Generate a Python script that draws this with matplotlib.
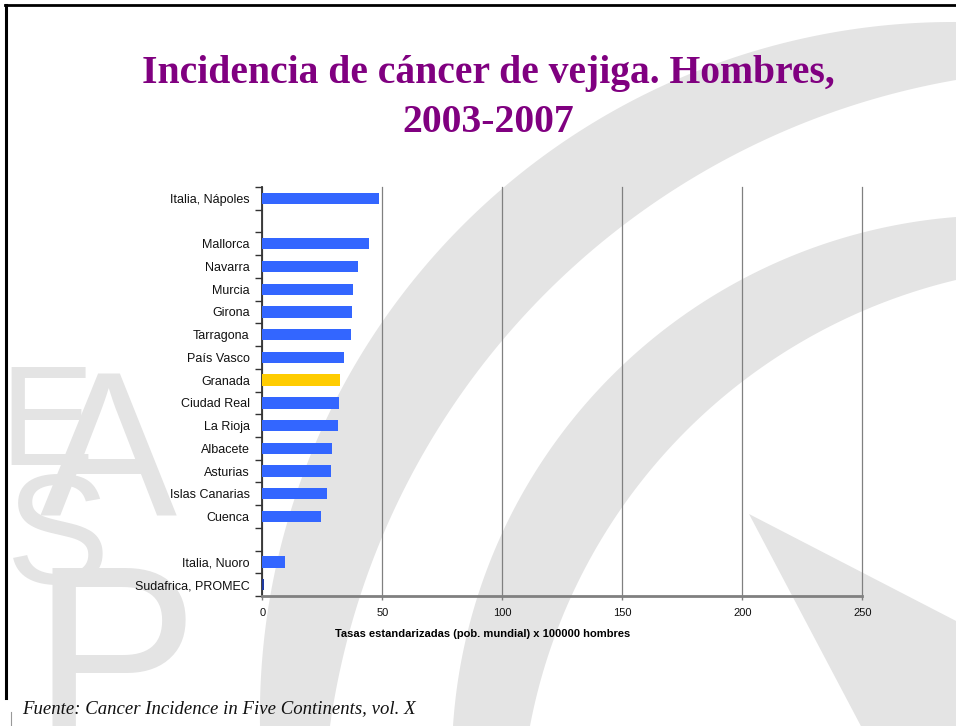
import numpy as np
import matplotlib
matplotlib.use("Agg")
import matplotlib.pyplot as plt
from matplotlib.patches import Polygon

# datos (tasas estandarizadas, pob. mundial, x 100000 hombres)
registros = ['Italia, Nápoles', '', 'Mallorca', 'Navarra', 'Murcia', 'Girona',
             'Tarragona', 'País Vasco', 'Granada', 'Ciudad Real', 'La Rioja',
             'Albacete', 'Asturias', 'Islas Canarias', 'Cuenca', '',
             'Italia, Nuoro', 'Sudafrica, PROMEC']
tasas = [48.6, None, 44.5, 39.9, 37.8, 37.4, 36.9, 34.0, 32.4, 32.0, 31.5,
         29.0, 28.6, 27.0, 24.5, None, 9.5, 0.7]
destacado = 'Granada'
ticks_x = [0, 50, 100, 150, 200, 250]

azul = '#3366FF'
amarillo = '#FFCC00'
gris_marca = '#e4e4e4'

W, H = 956, 726
fig = plt.figure(figsize=(W / 100, H / 100), dpi=100)

# fondo: marca de agua EASP (coordenadas en pixeles)
bg = fig.add_axes([0, 0, 1, 1], zorder=0)
bg.set_xlim(0, W)
bg.set_ylim(H, 0)
bg.axis('off')


def circulo(p1, p2, p3):
    (x1, y1), (x2, y2), (x3, y3) = p1, p2, p3
    A = np.array([[x2 - x1, y2 - y1], [x3 - x2, y3 - y2]]) * 2
    b = np.array([x2**2 - x1**2 + y2**2 - y1**2, x3**2 - x2**2 + y3**2 - y2**2])
    c = np.linalg.solve(A, b)
    return c, np.hypot(x1 - c[0], y1 - c[1])


def borde(pts, extra=0.15, n=200):
    c, r = circulo(*pts)
    ang = np.unwrap([np.arctan2(p[1] - c[1], p[0] - c[0]) for p in pts])
    s = np.sign(ang[-1] - ang[0])
    t = np.linspace(ang[0] - s * extra, ang[-1] + s * extra, n)
    return np.column_stack([c[0] + r * np.cos(t), c[1] + r * np.sin(t)])


bandas = [
    ([(956, 22), (556, 147), (260, 726)], [(956, 80), (556, 283), (330, 726)]),
    ([(956, 217), (589, 400), (453, 726)], [(956, 280), (623, 506), (530, 726)]),
]
for ext, intr in bandas:
    pts = np.vstack([borde(ext), borde(intr)[::-1]])
    bg.add_patch(Polygon(pts, closed=True, color=gris_marca, lw=0))
bg.add_patch(Polygon([(749, 514), (960, 623), (960, 730), (863, 730)],
                     closed=True, color=gris_marca, lw=0))

letra = dict(color=gris_marca, family='Liberation Sans', va='baseline', ha='left')
bg.text(-1, 465, 'E', fontsize=102, **letra)
bg.text(40, 517, 'A', fontsize=148, **letra)
bg.text(6, 583, 'S', fontsize=112, **letra)
bg.text(31, 740, 'P', fontsize=180, **letra)

# marco de la diapositiva
bg.plot([5, W], [5, 5], color='black', lw=2)
bg.plot([6, 6], [5, 698], color='black', lw=2.2)
bg.plot([11, 11], [712, H], color='#999999', lw=0.8)

# grafico
ax = fig.add_axes([262.3 / W, 1 - 596 / H, 600 / W, 409 / H], zorder=1)
ax.patch.set_alpha(0)

pos = np.arange(len(registros))
for y, nombre, v in zip(pos, registros, tasas):
    if v is None:
        continue
    color = amarillo if nombre == destacado else azul
    if v < 2:
        color = '#1f3aa0'
    ax.barh(y, v, height=0.5, color=color, lw=0, zorder=3)

ax.set_xlim(0, 250)
ax.set_ylim(len(registros) - 0.5, -0.5)
ax.set_xticks(ticks_x)
ax.set_xticklabels([str(t) for t in ticks_x], family='Liberation Sans', fontsize=8)
ax.set_yticks(pos)
ax.set_yticklabels(registros, family='Liberation Sans', fontsize=9)
ax.set_yticks(np.arange(-0.5, len(registros)), minor=True)
ax.tick_params(axis='y', which='major', length=0, pad=9, colors='#111111')
ax.tick_params(axis='y', which='minor', length=5, width=1, color='#333333', direction='out')
ax.tick_params(axis='x', length=3, width=1, color='#808080', pad=6, labelcolor='#111111')

ax.grid(axis='x', color='#808080', lw=0.9, zorder=1)
for gl in ax.get_xgridlines():
    gl.set_clip_on(False)
for lado in ['top', 'right']:
    ax.spines[lado].set_visible(False)
ax.spines['bottom'].set_color('#808080')
ax.spines['bottom'].set_linewidth(2)
ax.spines['left'].set_color('#333333')
ax.spines['left'].set_linewidth(1.3)

ax.set_xlabel('Tasas estandarizadas (pob. mundial) x 100000 hombres',
              family='Liberation Sans', fontsize=8, fontweight='bold')
ax.xaxis.set_label_coords((483 - 262.3) / 600, -0.08)

titulo = dict(color='#800080', family='Liberation Serif', fontweight='bold',
              fontsize=28.5, ha='center', va='baseline')
fig.text(488 / W, 1 - 83 / H, 'Incidencia de cáncer de vejiga. Hombres,', **titulo)
fig.text(488 / W, 1 - 132 / H, '2003-2007', **titulo)

fig.text(22 / W, 1 - 713 / H, 'Fuente: Cancer Incidence in Five Continents, vol. X',
         family='Liberation Serif', style='italic', fontsize=13.5, color='#111111')

fig.savefig('out.png', dpi=100)
